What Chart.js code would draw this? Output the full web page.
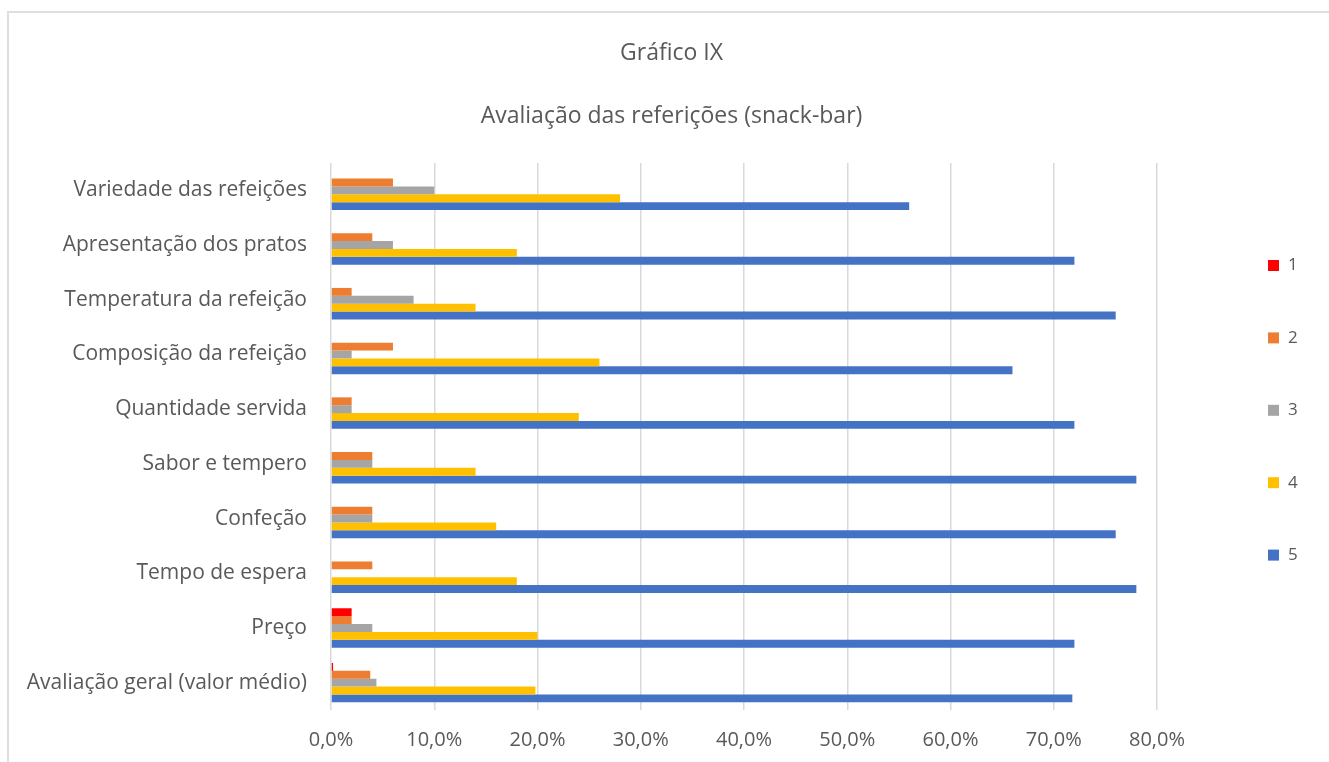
<!DOCTYPE html>
<html>
<head>
<meta charset="utf-8">
<script src="https://cdn.jsdelivr.net/npm/chart.js@4.4.0/dist/chart.umd.min.js"></script>
<style>
  html, body { margin: 0; padding: 0; background: #fff; overflow: hidden; }
  #wrap { position: relative; width: 1329px; height: 762px; }
  #frame { position: absolute; left: 7px; top: 11px; width: 1400px; height: 800px;
           border-left: 2px solid #dedede; border-top: 2px solid #dedede; }
  #chart { position: absolute; left: 0; top: 0; }
</style>
</head>
<body>
<div id="wrap">
  <div id="frame"></div>
  <canvas id="chart" width="1329" height="762"></canvas>
</div>
<script>
// meal ratings, share of answers per score (1 = worst, 5 = best)
const categories = [
  'Variedade das refeições',
  'Apresentação dos pratos',
  'Temperatura da refeição',
  'Composição da refeição',
  'Quantidade servida',
  'Sabor e tempero',
  'Confeção',
  'Tempo de espera',
  'Preço',
  'Avaliação geral (valor médio)'
];
const scoreLabels = ['1', '2', '3', '4', '5'];
const score1 = [0, 0, 0, 0, 0, 0, 0, 0, 2, 0.2];
const score2 = [6, 4, 2, 6, 2, 4, 4, 4, 2, 3.8];
const score3 = [10, 6, 8, 2, 2, 4, 4, 0, 4, 4.4];
const score4 = [28, 18, 14, 26, 24, 14, 16, 18, 20, 19.8];
const score5 = [56, 72, 76, 66, 72, 78, 76, 78, 72, 71.8];
const xTicks = [0, 10, 20, 30, 40, 50, 60, 70, 80];

const colors = ['#ff0000', '#ed7d31', '#a5a5a5', '#ffc000', '#4472c4'];
const textColor = '#595959';
const font = 'Open Sans';

// legend drawn as a column on the right side
const sideLegend = {
  id: 'sideLegend',
  afterDraw(chart, args, opts) {
    const ctx = chart.ctx;
    ctx.save();
    ctx.font = `${opts.size}px "${font}"`;
    ctx.textBaseline = 'middle';
    chart.data.datasets.forEach((ds, i) => {
      const y = opts.top + i * opts.step;
      ctx.fillStyle = ds.backgroundColor;
      ctx.fillRect(opts.x, y - opts.box / 2, opts.box, opts.box);
      ctx.fillStyle = textColor;
      ctx.fillText(ds.label, opts.x + opts.box + 9, y);
    });
    ctx.restore();
  }
};

const seriesData = [score1, score2, score3, score4, score5];

new Chart(document.getElementById('chart'), {
  type: 'bar',
  data: {
    labels: categories,
    datasets: seriesData.map((d, i) => ({
      label: scoreLabels[i],
      data: d,
      backgroundColor: colors[i],
      borderWidth: 0,
      categoryPercentage: 0.72,
      barPercentage: 1
    }))
  },
  options: {
    indexAxis: 'y',
    responsive: false,
    animation: false,
    layout: { padding: { left: 14, right: 0, top: 0, bottom: 0 } },
    plugins: {
      legend: { display: false },
      tooltip: { enabled: false },
      title: {
        display: true,
        text: 'Gráfico IX',
        color: textColor,
        font: { family: font, size: 23, weight: 'normal' },
        padding: { top: 39.7, bottom: 10 }
      },
      subtitle: {
        display: true,
        text: 'Avaliação das referições (snack-bar)',
        color: textColor,
        font: { family: font, size: 23, weight: 'normal' },
        padding: { top: 25.4, bottom: 32.7 }
      },
      sideLegend: { x: 1268, top: 265.5, step: 72.4, box: 11, size: 17 }
    },
    scales: {
      x: {
        min: 0,
        max: 80,
        afterBuildTicks: s => { s.ticks = xTicks.map(v => ({ value: v })); },
        afterFit: s => { s.height = 52; },
        grid: { color: '#d9d9d9', lineWidth: 1.5, drawTicks: false },
        border: { display: false },
        ticks: {
          color: textColor,
          padding: 18,
          font: { family: font, size: 20 },
          callback: v => v.toFixed(1).replace('.', ',') + '%'
        }
      },
      y: {
        afterFit: s => { s.width = 317; },
        grid: { display: false, drawTicks: false },
        border: { display: false },
        ticks: {
          color: textColor,
          padding: 24,
          font: { family: font, size: 21 }
        }
      },
      // empty column on the right that holds the legend
      legendSpace: {
        type: 'linear',
        position: 'right',
        grid: { display: false, drawTicks: false },
        border: { display: false },
        ticks: { display: false },
        afterFit: s => { s.width = 172; }
      }
    }
  },
  plugins: [sideLegend]
});
</script>
</body>
</html>
